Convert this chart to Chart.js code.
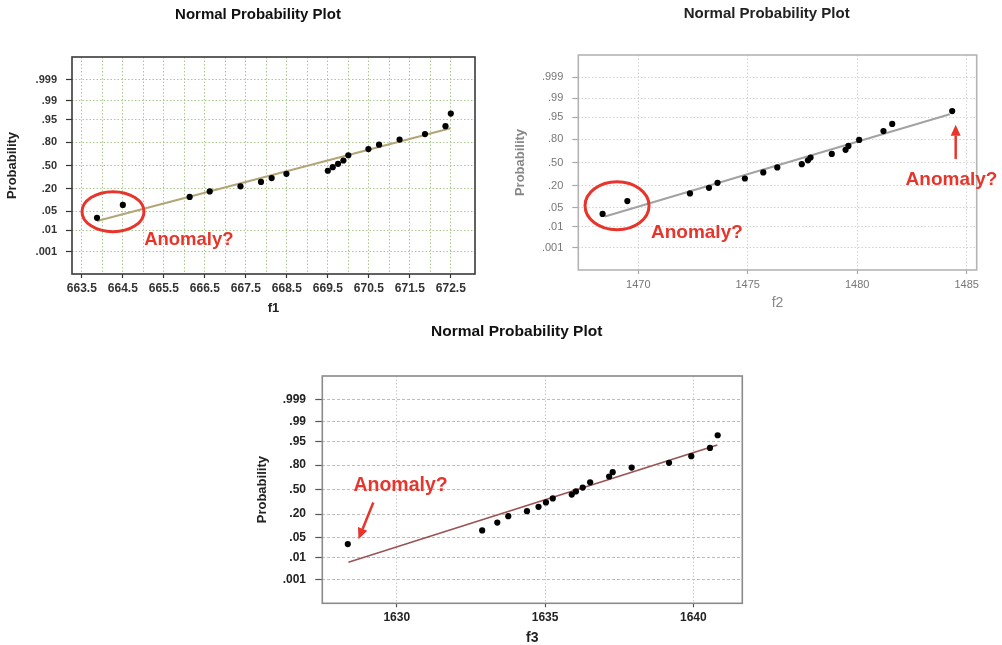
<!DOCTYPE html>
<html><head><meta charset="utf-8">
<script src="https://cdn.jsdelivr.net/npm/chart.js@4.4.1/dist/chart.umd.min.js"></script>
<style>
html,body{margin:0;padding:0;background:#fff;overflow:hidden;width:1002px;height:645px;}
canvas{position:absolute;}
</style></head><body>
<canvas id="c1" width="500" height="322" style="left:0;top:0"></canvas>
<canvas id="c2" width="502" height="322" style="left:500px;top:0"></canvas>
<canvas id="c3" width="520" height="330" style="left:250px;top:322px"></canvas>
<script>
// ---- shared probability axis ----
const probTicks = [0.001, 0.01, 0.05, 0.20, 0.50, 0.80, 0.95, 0.99, 0.999];
const probTickLabels = ['.001', '.01', '.05', '.20', '.50', '.80', '.95', '.99', '.999'];

// ---- f1 ----
const f1Values = [663.87, 664.50, 666.13, 666.62, 667.37, 667.87, 668.13, 668.49, 669.50, 669.62, 669.75, 669.88, 670.00, 670.49, 670.75, 671.25, 671.87, 672.37, 672.50];
const f1Probs  = [0.030, 0.078, 0.129, 0.176, 0.227, 0.278, 0.326, 0.382, 0.425, 0.476, 0.524, 0.571, 0.644, 0.722, 0.773, 0.824, 0.871, 0.921, 0.969];
const f1FitValues = [663.87, 672.49];
const f1FitProbs  = [0.023, 0.910];
const f1GridValues = [663.5, 664, 664.5, 665, 665.5, 666, 666.5, 667, 667.5, 668, 668.5, 669, 669.5, 670, 670.5, 671, 671.5, 672, 672.5];
const f1TickLabels = ['663.5', '664.5', '665.5', '666.5', '667.5', '668.5', '669.5', '670.5', '671.5', '672.5'];

// ---- f2 ----
const f2Values = [1468.37, 1469.50, 1472.36, 1473.23, 1473.62, 1474.87, 1475.71, 1476.35, 1477.47, 1477.75, 1477.87, 1478.84, 1479.47, 1479.60, 1480.09, 1481.20, 1481.60, 1484.34];
const f2Probs  = [0.031, 0.081, 0.131, 0.179, 0.230, 0.281, 0.359, 0.429, 0.476, 0.532, 0.571, 0.622, 0.677, 0.726, 0.794, 0.873, 0.919, 0.969];
const f2FitValues = [1468.48, 1484.23];
const f2FitProbs  = [0.025, 0.960];
const f2GridValues = [1470, 1475, 1480, 1485];
const f2TickLabels = ['1470', '1475', '1480', '1485'];

// ---- f3 ----
const f3Values = [1628.35, 1632.88, 1633.39, 1633.76, 1634.39, 1634.78, 1635.03, 1635.26, 1635.90, 1636.04, 1636.27, 1636.52, 1637.16, 1637.28, 1637.92, 1639.18, 1639.93, 1640.56, 1640.82];
const f3Probs  = [0.031, 0.081, 0.129, 0.181, 0.230, 0.278, 0.330, 0.382, 0.433, 0.476, 0.528, 0.599, 0.674, 0.726, 0.776, 0.821, 0.875, 0.924, 0.969];
const f3FitValues = [1628.37, 1640.81];
const f3FitProbs  = [0.0064, 0.937];
const f3GridValues = [1630, 1635, 1640];
const f3TickLabels = ['1630', '1635', '1640'];

const plotTitle = 'Normal Probability Plot';
const yTitle = 'Probability';

// inverse standard normal CDF (probability scale transform)
function probit(p){
  const a=[-3.969683028665376e+01,2.209460984245205e+02,-2.759285104469687e+02,1.383577518672690e+02,-3.066479806614716e+01,2.506628277459239e+00];
  const b=[-5.447609879822406e+01,1.615858368580409e+02,-1.556989798598866e+02,6.680131188771972e+01,-1.328068155288572e+01];
  const c=[-7.784894002430293e-03,-3.223964580411365e-01,-2.400758277161838e+00,-2.549732539343734e+00,4.374664141464968e+00,2.938163982698783e+00];
  const d=[7.784695709041462e-03,3.224671290700398e-01,2.445134137142996e+00,3.754408661907416e+00];
  const pl=0.02425, ph=1-pl; let q, r;
  if (p < pl){ q=Math.sqrt(-2*Math.log(p)); return (((((c[0]*q+c[1])*q+c[2])*q+c[3])*q+c[4])*q+c[5])/((((d[0]*q+d[1])*q+d[2])*q+d[3])*q+1); }
  if (p > ph){ q=Math.sqrt(-2*Math.log(1-p)); return -(((((c[0]*q+c[1])*q+c[2])*q+c[3])*q+c[4])*q+c[5])/((((d[0]*q+d[1])*q+d[2])*q+d[3])*q+1); }
  q=p-0.5; r=q*q;
  return (((((a[0]*r+a[1])*r+a[2])*r+a[3])*r+a[4])*r+a[5])*q/(((((b[0]*r+b[1])*r+b[2])*r+b[3])*r+b[4])*r+1);
}
const pts = (xs, ps) => xs.map((x, i) => ({x: x, y: probit(ps[i])}));

const RED = '#e8352b';
const FONT = '"Liberation Sans", Arial, sans-serif';

const decor = {
  id: 'decor',
  beforeDatasetsDraw(chart, args, o){
    const {ctx, chartArea: a} = chart;
    ctx.save();
    ctx.strokeStyle = o.border; ctx.lineWidth = o.borderWidth;
    ctx.strokeRect(a.left, a.top, a.right - a.left, a.bottom - a.top);
    ctx.restore();
  },
  afterDatasetsDraw(chart, args, o){
    const {ctx} = chart;
    const xs = chart.scales.x, ys = chart.scales.y;
    ctx.save();
    ctx.fillStyle = o.titleColor;
    ctx.font = 'bold ' + o.titleSize + 'px ' + FONT;
    ctx.textAlign = 'center'; ctx.textBaseline = 'middle';
    ctx.fillText(plotTitle, o.titleX, o.titleY);
    (o.notes || []).forEach(n => {
      ctx.strokeStyle = RED; ctx.fillStyle = RED;
      if (n.type === 'ellipse'){
        ctx.lineWidth = 3;
        ctx.beginPath();
        ctx.ellipse(xs.getPixelForValue(n.x), ys.getPixelForValue(n.z), n.rx, n.ry, 0, 0, Math.PI*2);
        ctx.stroke();
      } else if (n.type === 'text'){
        ctx.font = 'bold ' + n.size + 'px ' + FONT;
        ctx.textAlign = 'left'; ctx.textBaseline = 'middle';
        ctx.fillText(n.text, xs.getPixelForValue(n.x), ys.getPixelForValue(n.z));
      } else if (n.type === 'arrow'){
        const x1 = xs.getPixelForValue(n.x1), y1 = ys.getPixelForValue(n.z1);
        const x2 = xs.getPixelForValue(n.x2), y2 = ys.getPixelForValue(n.z2);
        const ang = Math.atan2(y2 - y1, x2 - x1), hl = 11, hw = 5;
        const bx = x2 - hl*Math.cos(ang), by = y2 - hl*Math.sin(ang);
        ctx.lineWidth = 2.5;
        ctx.beginPath(); ctx.moveTo(x1, y1); ctx.lineTo(bx, by); ctx.stroke();
        ctx.beginPath();
        ctx.moveTo(x2, y2);
        ctx.lineTo(bx + hw*Math.sin(ang), by - hw*Math.cos(ang));
        ctx.lineTo(bx - hw*Math.sin(ang), by + hw*Math.cos(ang));
        ctx.closePath(); ctx.fill();
      }
    });
    ctx.restore();
  }
};

function makePanel(id, p){
  new Chart(document.getElementById(id), {
    type: 'scatter',
    data: {
      datasets: [
        { type: 'line', data: pts(p.fitX, p.fitP), borderColor: p.fitColor, borderWidth: p.fitWidth,
          pointRadius: 0, fill: false, tension: 0, order: 2 },
        { data: pts(p.xs, p.ps), backgroundColor: '#000', borderColor: '#000', borderWidth: 0,
          pointRadius: 3.1, order: 1 }
      ]
    },
    options: {
      responsive: false, animation: false,
      layout: { padding: p.pad },
      plugins: {
        legend: { display: false }, tooltip: { enabled: false },
        decor: p.decor
      },
      scales: {
        x: {
          type: 'linear', position: 'bottom', min: p.xMin, max: p.xMax,
          afterBuildTicks: s => { s.ticks = p.grid.map(v => ({value: v})); },
          afterFit: s => { s.height = p.xHeight; },
          ticks: {
            autoSkip: false, maxRotation: 0, padding: p.xTickPad, color: p.tickColor,
            font: { family: FONT, size: p.xTickSize, weight: p.tickWeight },
            callback: v => { const t = p.labels.find(l => Math.abs(parseFloat(l) - v) < 1e-6); return t === undefined ? '' : t; }
          },
          grid: {
            color: p.gridColorX, lineWidth: 1, drawTicks: true, tickLength: p.xTickLen,
            tickBorderDash: [], tickWidth: 1.2,
            tickColor: c => { const v = c.tick ? c.tick.value : null; return p.labels.some(l => Math.abs(parseFloat(l) - v) < 1e-6) ? p.tickMarkColor : 'rgba(0,0,0,0)'; }
          },
          border: { display: false, dash: p.dashX },
          title: { display: true, text: p.xTitle, color: p.titleColor2, padding: 0,
                   font: { family: FONT, size: p.xTitleSize, weight: p.axisTitleWeight } }
        },
        y: {
          type: 'linear', position: 'left', min: -3.9, max: 3.9,
          afterBuildTicks: s => { s.ticks = probTicks.map(v => ({value: probit(v)})); },
          afterFit: s => { s.width = p.yWidth; },
          ticks: {
            autoSkip: false, padding: p.yTickPad, color: p.tickColor,
            font: { family: FONT, size: p.yTickSize, weight: p.tickWeight },
            callback: (v, i) => probTickLabels[i]
          },
          grid: {
            color: p.gridColorY, lineWidth: 1, drawTicks: true, tickLength: p.yTickLen,
            tickBorderDash: [], tickWidth: 1.2, tickColor: p.tickMarkColor
          },
          border: { display: false, dash: p.dashY },
          title: { display: true, text: yTitle, color: p.titleColor2, padding: 0,
                   font: { family: FONT, size: 13, weight: 'bold' } }
        }
      }
    },
    plugins: [decor]
  });
}

makePanel('c1', {
  xs: f1Values, ps: f1Probs, fitX: f1FitValues, fitP: f1FitProbs, grid: f1GridValues, labels: f1TickLabels,
  fitColor: '#b3a577', fitWidth: 2, xMin: 663.26, xMax: 673.09,
  pad: { left: 5, right: 25, top: 57, bottom: 6.2 }, yWidth: 67, xHeight: 41.8,
  tickColor: '#333', tickWeight: 'bold', xTickSize: 12, yTickSize: 11,
  xTickPad: 3, xTickLen: 4, yTickPad: 9, yTickLen: 6, tickMarkColor: '#333',
  gridColorX: '#a9c98e', gridColorY: '#a9c98e', dashX: [1.5, 2], dashY: [1.5, 2],
  xTitle: 'f1', xTitleSize: 13, axisTitleWeight: 'bold', titleColor2: '#222',
  decor: { border: '#3a3a3a', borderWidth: 1.6, titleX: 258, titleY: 15, titleSize: 15, titleColor: '#111',
    notes: [
      { type: 'ellipse', x: 664.26, z: -1.66, rx: 31, ry: 20 },
      { type: 'text', x: 665.02, z: -2.67, text: 'Anomaly?', size: 18.5 }
    ] }
});

makePanel('c2', {
  xs: f2Values, ps: f2Probs, fitX: f2FitValues, fitP: f2FitProbs, grid: f2GridValues, labels: f2TickLabels,
  fitColor: '#a2a2a2', fitWidth: 2, xMin: 1467.26, xMax: 1485.46,
  pad: { left: 12.2, right: 25.3, top: 55, bottom: 10.9 }, yWidth: 66.1, xHeight: 41.1,
  tickColor: '#777', tickWeight: 'normal', xTickSize: 11, yTickSize: 11,
  xTickPad: 4.4, xTickLen: 4, yTickPad: 9, yTickLen: 6, tickMarkColor: '#aaa',
  gridColorX: '#d2d2d2', gridColorY: '#d2d2d2', dashX: [1.5, 2], dashY: [1.5, 2],
  xTitle: 'f2', xTitleSize: 14, axisTitleWeight: 'normal', titleColor2: '#888',
  decor: { border: '#b4b4b4', borderWidth: 1.6, titleX: 266.7, titleY: 14, titleSize: 15, titleColor: '#222',
    notes: [
      { type: 'ellipse', x: 1469.03, z: -1.57, rx: 32, ry: 24 },
      { type: 'text', x: 1470.58, z: -2.55, text: 'Anomaly?', size: 19 },
      { type: 'text', x: 1482.21, z: -0.63, text: 'Anomaly?', size: 19 },
      { type: 'arrow', x1: 1484.5, z1: 0.13, x2: 1484.5, z2: 1.37 }
    ] }
});

makePanel('c3', {
  xs: f3Values, ps: f3Probs, fitX: f3FitValues, fitP: f3FitProbs, grid: f3GridValues, labels: f3TickLabels,
  fitColor: '#9b5252', fitWidth: 1.6, xMin: 1627.49, xMax: 1641.65,
  pad: { left: 4.2, right: 27.7, top: 54, bottom: 5.3 }, yWidth: 68.1, xHeight: 43.4,
  tickColor: '#222', tickWeight: 'bold', xTickSize: 12, yTickSize: 12,
  xTickPad: 2.8, xTickLen: 4, yTickPad: 9.3, yTickLen: 7, tickMarkColor: '#555',
  gridColorX: '#c8c8c8', gridColorY: '#bdbdbd', dashX: [1.5, 2], dashY: [3, 2],
  xTitle: 'f3', xTitleSize: 14, axisTitleWeight: 'bold', titleColor2: '#222',
  decor: { border: '#8a8a8a', borderWidth: 1.6, titleX: 266.7, titleY: 9.7, titleSize: 15.5, titleColor: '#111',
    notes: [
      { type: 'text', x: 1628.54, z: 0.14, text: 'Anomaly?', size: 19.5 },
      { type: 'arrow', x1: 1629.21, z1: -0.44, x2: 1628.71, z2: -1.70 }
    ] }
});
</script>
</body></html>
